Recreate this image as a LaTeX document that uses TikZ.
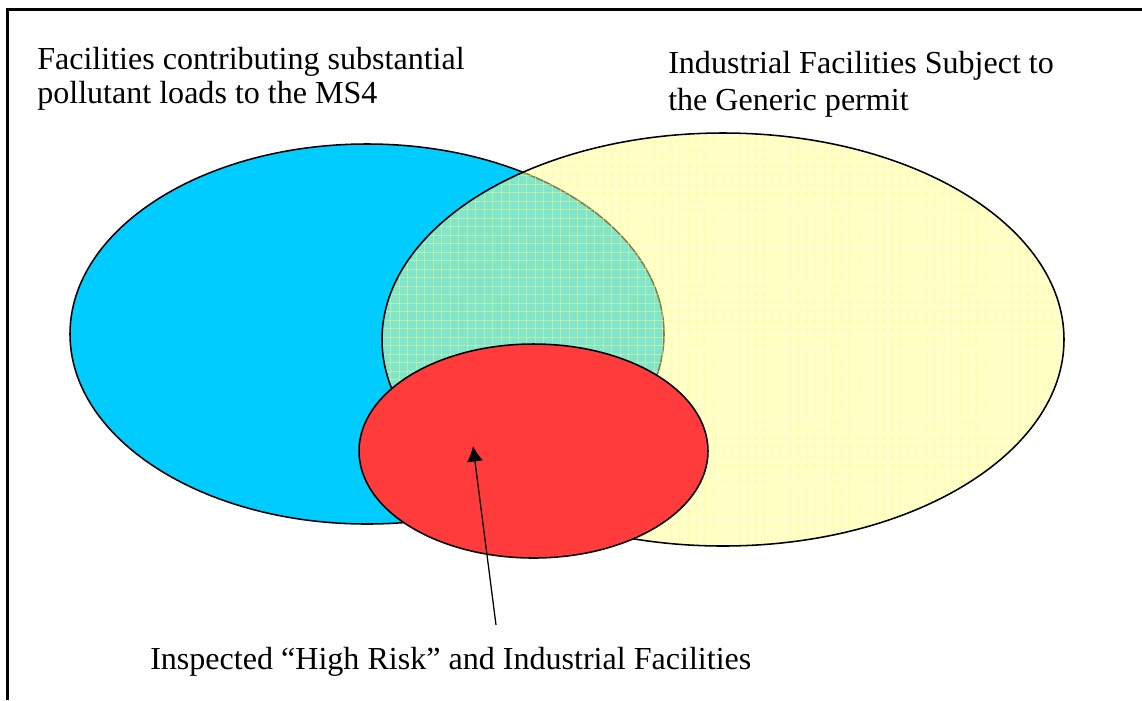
\documentclass[tikz,border=0pt]{standalone}
\usepackage{fontspec}
\setmainfont{Liberation Serif}
\usepackage{tikz}
\usetikzlibrary{arrows.meta}
\definecolor{loadblue}{HTML}{00CCFF}
\definecolor{permityellow}{HTML}{FFFF99}
\definecolor{gridyellow}{HTML}{FFFF80}
\definecolor{riskred}{HTML}{FF3B3B}
\tikzset{
  setoutline/.style={draw=black,line width=1.1pt},
  gridline/.style={draw=gridyellow,draw opacity=0.4,line width=0.6pt},
  setlabel/.style={anchor=base west,align=left,inner sep=0pt,
    font=\fontsize{22.8pt}{26.1pt}\selectfont},
  pointer/.style={-{Latex[length=11pt,width=11.5pt]},line width=0.9pt,draw=black}
}

\begin{document}
\begin{tikzpicture}[x=0.025cm,y=-0.025cm]
\path[use as bounding box] (0,0) rectangle (1142,700);
\draw[line width=1.5pt] (1142,9.5)--(7.5,9.5)--(7.5,700);
\draw[setoutline,fill=loadblue] (367,334) ellipse (297 and 190);
\fill[permityellow,fill opacity=0.5] (723,339.5) ellipse (341 and 206.5);
% fine grid over the permit set
\begin{scope}
\clip (723,339.5) ellipse (341 and 206.5);
\foreach \gx in {0,...,80} \draw[gridline] (382+8.5*\gx,133)--(382+8.5*\gx,546);
\foreach \gy in {0,...,49} \draw[gridline] (382,133+8.5*\gy)--(1064,133+8.5*\gy);
\end{scope}
\draw[setoutline] (723,339.5) ellipse (341 and 206.5);
\draw[setoutline,fill=riskred] (533.5,451) ellipse (174.5 and 107);
\coordinate (pointertail) at (496,625);
\coordinate (pointertip) at (473,446);
\draw[pointer] (pointertail)--(pointertip);
% multi-line labels sit on the baseline of their last line
\node[setlabel,font=\fontsize{22.8pt}{23.5pt}\selectfont] (loadslabel) at (37,103)
{Facilities contributing substantial\\pollutant loads to the MS4};
\node[setlabel] (permitlabel) at (668,110)
{Industrial Facilities Subject to\\the Generic permit};
\node[setlabel] (inspectlabel) at (150,669)
{Inspected “High Risk” and Industrial Facilities};
\end{tikzpicture}
\end{document}
